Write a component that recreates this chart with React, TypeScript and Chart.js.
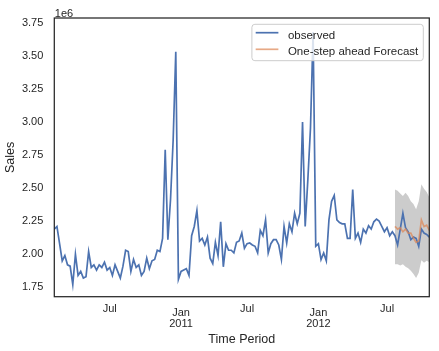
import React, { useEffect, useRef } from 'react';
import { Chart, registerables } from 'chart.js';

Chart.register(...registerables);

const FONT = '"Liberation Sans", Arial, sans-serif';
const TEXT = '#262626';

// Weekly sales (millions), week 0 = 2010-02-05 ... week 142 = 2012-10-26
const observed = [
  2.19, 2.21, 2.08, 1.95, 1.99, 1.92, 1.91, 1.77, 2.00, 1.84,
  1.87, 1.82, 1.83, 2.02, 1.90, 1.92, 1.88, 1.92, 1.90, 1.94,
  1.88, 1.90, 1.84, 1.92, 1.87, 1.82, 1.91, 2.03, 2.02, 1.87,
  1.96, 1.90, 1.92, 1.84, 1.87, 1.97, 1.89, 1.95, 1.96, 2.03,
  2.02, 2.12, 2.79, 2.11, 2.41, 2.86, 3.53, 1.81, 1.87, 1.88,
  1.89, 1.84, 2.14, 2.21, 2.33, 2.10, 2.12, 2.07, 2.13, 1.97,
  1.93, 2.09, 1.99, 2.245, 1.905, 2.08, 2.03, 2.03, 2.01, 2.09,
  2.10, 2.16, 2.045, 2.08, 2.085, 2.07, 2.06, 2.01, 2.18, 2.14,
  2.26, 2.01, 2.08, 2.11, 2.11, 2.07, 1.96, 2.21, 2.085, 2.23,
  2.17, 2.31, 2.23, 2.31, 3.00, 2.21, 2.56, 2.95, 3.68, 2.06,
  2.08, 1.96, 2.01, 1.95, 2.26, 2.40, 2.445, 2.26, 2.24, 2.23,
  2.23, 2.12, 2.12, 2.49, 2.12, 2.16, 2.09, 2.19, 2.16, 2.215,
  2.19, 2.245, 2.265, 2.25, 2.21, 2.17, 2.20, 2.14, 2.17, 2.14,
  2.07, 2.19, 2.31, 2.20, 2.17, 2.11, 2.13, 2.12, 2.06, 2.19,
  2.16, 2.15, 2.13,
];

// One-step ahead forecast from 2012-07-27 (week 129)
const forecastStartWeek = 129;
const forecast = [2.21, 2.19, 2.20, 2.17, 2.19, 2.16, 2.16, 2.12, 2.09, 2.10, 2.26, 2.21, 2.22, 2.18];
const ciUpper = [2.49, 2.48, 2.46, 2.44, 2.465, 2.44, 2.40, 2.38, 2.34, 2.40, 2.53, 2.495, 2.47, 2.43];
const ciLower = [1.925, 1.925, 1.915, 1.925, 1.905, 1.895, 1.875, 1.85, 1.82, 1.86, 1.955, 1.935, 1.95, 1.94];

const yTicks = [1.75, 2.0, 2.25, 2.5, 2.75, 3.0, 3.25, 3.5, 3.75];
const yMin = 1.679;
const yMax = 3.786;
const xTickWeeks = [21, 48, 73, 100, 126];
const xTickLabels = ['Jul', 'Jan\n2011', 'Jul', 'Jan\n2012', 'Jul'];

const overlayPlugin = {
  id: 'overlay',
  afterDatasetsDraw(chart: any) {
    const { ctx, chartArea } = chart;
    ctx.save();
    ctx.strokeStyle = TEXT;
    ctx.lineWidth = 1.25;
    ctx.strokeRect(chartArea.left, chartArea.top, chartArea.right - chartArea.left, chartArea.bottom - chartArea.top);
    ctx.restore();
  },
  afterDraw(chart: any) {
    const { ctx, chartArea } = chart;
    ctx.save();
    ctx.font = `11px ${FONT}`;
    ctx.fillStyle = TEXT;
    ctx.textAlign = 'left';
    ctx.textBaseline = 'alphabetic';
    ctx.fillText('1e6', chartArea.left + 0.5, 16.5);

    // legend
    ctx.font = `11.5px ${FONT}`;
    const labels = ['observed', 'One-step ahead Forecast'];
    const colors = ['#4C72B0', 'rgba(221,132,82,0.7)'];
    const tw = Math.max(...labels.map((l) => ctx.measureText(l).width));
    const boxRight = chartArea.right - 6;
    const boxTop = chartArea.top + 6.3;
    const boxLeft = boxRight - (tw + 41);
    const boxH = 36.4;
    const r = 3;
    ctx.beginPath();
    ctx.moveTo(boxLeft + r, boxTop);
    ctx.lineTo(boxRight - r, boxTop);
    ctx.quadraticCurveTo(boxRight, boxTop, boxRight, boxTop + r);
    ctx.lineTo(boxRight, boxTop + boxH - r);
    ctx.quadraticCurveTo(boxRight, boxTop + boxH, boxRight - r, boxTop + boxH);
    ctx.lineTo(boxLeft + r, boxTop + boxH);
    ctx.quadraticCurveTo(boxLeft, boxTop + boxH, boxLeft, boxTop + boxH - r);
    ctx.lineTo(boxLeft, boxTop + r);
    ctx.quadraticCurveTo(boxLeft, boxTop, boxLeft + r, boxTop);
    ctx.closePath();
    ctx.fillStyle = 'rgba(255,255,255,0.8)';
    ctx.fill();
    ctx.strokeStyle = '#cccccc';
    ctx.lineWidth = 1;
    ctx.stroke();

    labels.forEach((l, i) => {
      const ly = boxTop + 8.4 + i * 16.6;
      ctx.beginPath();
      ctx.moveTo(boxLeft + 3.8, ly);
      ctx.lineTo(boxLeft + 26.5, ly);
      ctx.strokeStyle = colors[i];
      ctx.lineWidth = 1.7;
      ctx.stroke();
      ctx.fillStyle = TEXT;
      ctx.fillText(l, boxLeft + 36, ly + 6.1);
    });
    ctx.restore();
  },
};

export default function App() {
  const ref = useRef<HTMLCanvasElement>(null);
  useEffect(() => {
    document.body.style.margin = '0';
    const obsPts = observed.map((v, i) => ({ x: i, y: v }));
    const fcPts = forecast.map((v, i) => ({ x: forecastStartWeek + i, y: v }));
    const upPts = ciUpper.map((v, i) => ({ x: forecastStartWeek + i, y: v }));
    const loPts = ciLower.map((v, i) => ({ x: forecastStartWeek + i, y: v }));

    const chart = new Chart(ref.current as HTMLCanvasElement, {
      type: 'line',
      data: {
        datasets: [
          {
            label: 'ci upper',
            data: upPts,
            borderColor: 'rgba(0,0,0,0)',
            borderWidth: 1,
            pointRadius: 0,
            fill: 1,
            backgroundColor: 'rgba(0,0,0,0.2)',
            tension: 0,
            order: 2,
          },
          {
            label: 'ci lower',
            data: loPts,
            borderColor: 'rgba(0,0,0,0)',
            borderWidth: 1,
            pointRadius: 0,
            fill: false,
            tension: 0,
            order: 2,
          },
          {
            label: 'One-step ahead Forecast',
            data: fcPts,
            borderColor: 'rgba(221,132,82,0.7)',
            borderWidth: 1.7,
            pointRadius: 0,
            fill: false,
            tension: 0,
            order: 0,
          },
          {
            label: 'observed',
            data: obsPts,
            borderColor: '#4C72B0',
            borderWidth: 1.7,
            pointRadius: 0,
            fill: false,
            tension: 0,
            order: 1,
          },
        ],
      },
      options: {
        responsive: false,
        animation: false,
        events: [],
        layout: { padding: { top: 18, right: 9.7, left: 0, bottom: 0 } },
        plugins: { legend: { display: false }, tooltip: { enabled: false } },
        scales: {
          x: {
            type: 'linear',
            min: 0,
            max: observed.length - 1,
            grid: { display: false, drawTicks: false },
            border: { display: false },
            afterFit: (s: any) => {
              s.height = 351 - 296.7;
            },
            afterBuildTicks: (s: any) => {
              s.ticks = xTickWeeks.map((v) => ({ value: v }));
            },
            ticks: {
              autoSkip: false,
              maxRotation: 0,
              minRotation: 0,
              padding: 10.5,
              color: TEXT,
              font: (c: any) =>
                Array.isArray(c.tick && c.tick.label)
                  ? { family: FONT, size: 11, lineHeight: 1.045 }
                  : { family: FONT, size: 11, lineHeight: 0.4 },
              callback: (_v: any, i: number) => {
                const l = xTickLabels[i];
                return l.includes('\n') ? l.split('\n') : l;
              },
            },
            title: {
              display: true,
              text: 'Time Period',
              color: TEXT,
              font: { family: FONT, size: 12.5, lineHeight: 1.2 },
              padding: { top: 0, bottom: 4 },
            },
          },
          y: {
            type: 'linear',
            min: yMin,
            max: yMax,
            grid: { display: false, drawTicks: false },
            border: { display: false },
            afterFit: (s: any) => {
              s.width = 54.3;
            },
            afterBuildTicks: (s: any) => {
              s.ticks = yTicks.map((v) => ({ value: v }));
            },
            ticks: {
              padding: 11,
              color: TEXT,
              font: { family: FONT, size: 11 },
              callback: (v: any) => Number(v).toFixed(2),
            },
            title: {
              display: true,
              text: 'Sales',
              color: TEXT,
              font: { family: FONT, size: 12.5, lineHeight: 1.2 },
              padding: { top: 3.5, bottom: 0 },
            },
          },
        },
      },
      plugins: [overlayPlugin],
    } as any);
    return () => chart.destroy();
  }, []);

  return (
    <div style={{ width: 439, height: 351 }}>
      <canvas ref={ref} width={439} height={351} style={{ display: 'block', width: 439, height: 351 }} />
    </div>
  );
}
